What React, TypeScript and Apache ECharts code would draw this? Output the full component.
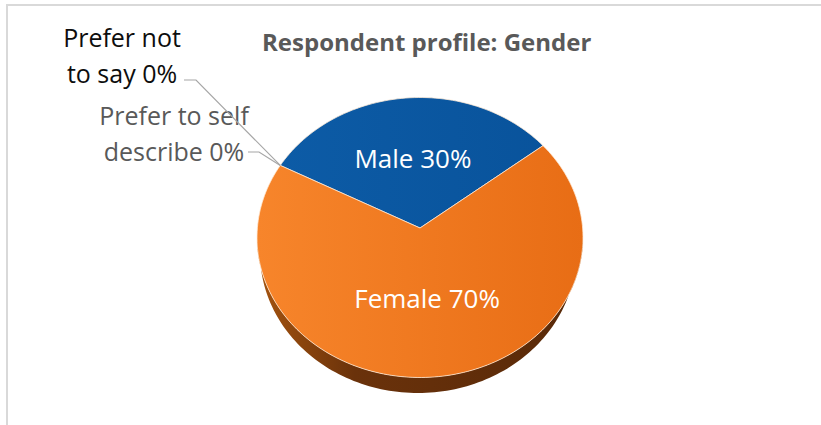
import React, { useEffect, useRef } from "react";
import * as echarts from "echarts";

// ---- data ----
const categories = ["Male", "Female", "Prefer to self describe", "Prefer not to say"];
const values = [30, 70, 0, 0];
const labelNames = ["Male", "Female", "Prefer to self\ndescribe", "Prefer not\nto say"];
const chartTitle = "Respondent profile: Gender";

// ---- styles / geometry (not data) ----
const FONT = "'Open Sans', 'Noto Sans', sans-serif";
const faceColors: string[][] = [
  ["#0d5ca7", "#08529a"],
  ["#f7852b", "#e86d15"],
  ["#a5a5a5", "#a5a5a5"],
  ["#ffc000", "#ffc000"],
];
const labelColors = ["#ffffff", "#ffffff", "#595959", "#0d0d0d"];
const G = {
  cx: 420, cy: 237.5, rx: 163, ry: 140, // top face ellipse
  ax: 420, ay: 228, // apex of slices
  bcx: 418, bcy: 253, brx: 158, bry: 140, // bottom (depth) ellipse
  start: -59, // degrees clockwise from 12 o'clock
};
// anchors for outside (leader-line) labels, keyed by data index
const outsideAnchors: Record<number, { tx: number; ty: number; lx0: number; lx1: number; ly: number }> = {
  2: { tx: 174, ty: 133, lx0: 248, lx1: 259, ly: 152 },
  3: { tx: 122, ty: 55, lx0: 184, lx1: 196, ly: 80 },
};

const total = values.reduce((a, b) => a + b, 0);
const rad = (d: number) => (d * Math.PI) / 180;
function sliceRange(i: number, v: number): [number, number] {
  let cum = 0;
  for (let k = 0; k < i; k++) cum += values[k];
  const s = G.start + (360 * cum) / total;
  return [s, s + (360 * v) / total];
}
const topPt = (d: number) => [G.cx + G.rx * Math.sin(rad(d)), G.cy - G.ry * Math.cos(rad(d))];
const botPt = (d: number) => [G.bcx + G.brx * Math.sin(rad(d)), G.bcy - G.bry * Math.cos(rad(d))];
function arc(fn: (d: number) => number[], a: number, b: number) {
  const pts: number[][] = [];
  const n = Math.max(2, Math.ceil(Math.abs(b - a) / 1.5));
  for (let j = 0; j <= n; j++) pts.push(fn(a + ((b - a) * j) / n));
  return pts;
}

export default function App() {
  const ref = useRef<HTMLDivElement>(null);
  useEffect(() => {
    document.body.style.margin = "0";
    const chart = echarts.init(ref.current!, null, { renderer: "svg" });
    const sideGrad = {
      type: "linear", x: 257, y: 0, x2: 583, y2: 0, global: true,
      colorStops: [
        { offset: 0, color: "#a5540f" },
        { offset: 0.3, color: "#6a320b" },
        { offset: 1, color: "#582908" },
      ],
    };
    const depthRender = (params: any, api: any) => {
      const i = params.dataIndex;
      const v = api.value(0);
      if (!v) return { type: "group", children: [] };
      let [s, e] = sliceRange(i, v);
      const children: any[] = [];
      for (const [lo, hi] of [[90, 270], [450, 630], [-270, -90]]) {
        const a = Math.max(s, lo);
        const b = Math.min(e, hi);
        if (b > a) {
          const pts = arc(topPt, a, b).concat(arc(botPt, b, a));
          children.push({ type: "polygon", shape: { points: pts }, style: { fill: sideGrad } });
        }
      }
      return { type: "group", children };
    };
    const faceRender = (params: any, api: any) => {
      const i = params.dataIndex;
      const v = api.value(0);
      const [s, e] = sliceRange(i, v);
      const children: any[] = [];
      const pct = Math.round((v / total) * 100) + "%";
      const text = labelNames[i] + " " + pct;
      if (v > 0) {
        const pts = [[G.ax, G.ay]].concat(arc(topPt, s, e));
        children.push({
          type: "polygon",
          shape: { points: pts },
          style: {
            fill: {
              type: "linear", x: G.cx - G.rx, y: 0, x2: G.cx + G.rx, y2: 0, global: true,
              colorStops: [
                { offset: 0, color: faceColors[i][0] },
                { offset: 1, color: faceColors[i][1] },
              ],
            },
            stroke: "rgba(255,235,215,0.75)",
            lineWidth: 1,
          },
        });
        const mid = (s + e) / 2;
        const f = 0.5;
        children.push({
          type: "text",
          x: G.ax + f * G.rx * Math.sin(rad(mid)),
          y: G.ay - f * G.ry * Math.cos(rad(mid)),
          style: {
            text, fill: labelColors[i], fontSize: 26, fontFamily: FONT,
            align: "center", verticalAlign: "middle",
          },
        });
      } else {
        const an = outsideAnchors[i];
        const tgt = topPt(s);
        if (an) {
          children.push({
            type: "polyline",
            shape: { points: [[an.lx0, an.ly], [an.lx1, an.ly], tgt] },
            style: { stroke: "#a6a6a6", lineWidth: 1.2, fill: "none" },
          });
          children.push({
            type: "text",
            x: an.tx, y: an.ty,
            style: {
              text, fill: labelColors[i], fontSize: 25, fontFamily: FONT, lineHeight: 36,
              align: "center", verticalAlign: "middle",
            },
          });
        }
      }
      return { type: "group", children };
    };
    chart.setOption({
      animation: false,
      backgroundColor: "#ffffff",
      title: {
        text: chartTitle,
        left: 257,
        top: 24,
        textStyle: { fontSize: 24, fontWeight: "bold", color: "#595959", fontFamily: FONT },
      },
      graphic: [
        {
          type: "rect", silent: true, z: -10,
          shape: { x: 7, y: 5, width: 900, height: 500 },
          style: { fill: "none", stroke: "#d9d9d9", lineWidth: 2 },
        },
      ],
      series: [
        {
          type: "custom", name: "depth", coordinateSystem: "none", silent: true,
          renderItem: depthRender,
          data: values.map((v, i) => ({ name: categories[i], value: [v] })),
        },
        {
          type: "custom", name: "Gender", coordinateSystem: "none", silent: true,
          renderItem: faceRender,
          data: values.map((v, i) => ({ name: categories[i], value: [v] })),
        },
      ],
    });
    return () => chart.dispose();
  }, []);
  return <div ref={ref} style={{ position: "absolute", left: 0, top: 0, width: 821, height: 425 }} />;
}
